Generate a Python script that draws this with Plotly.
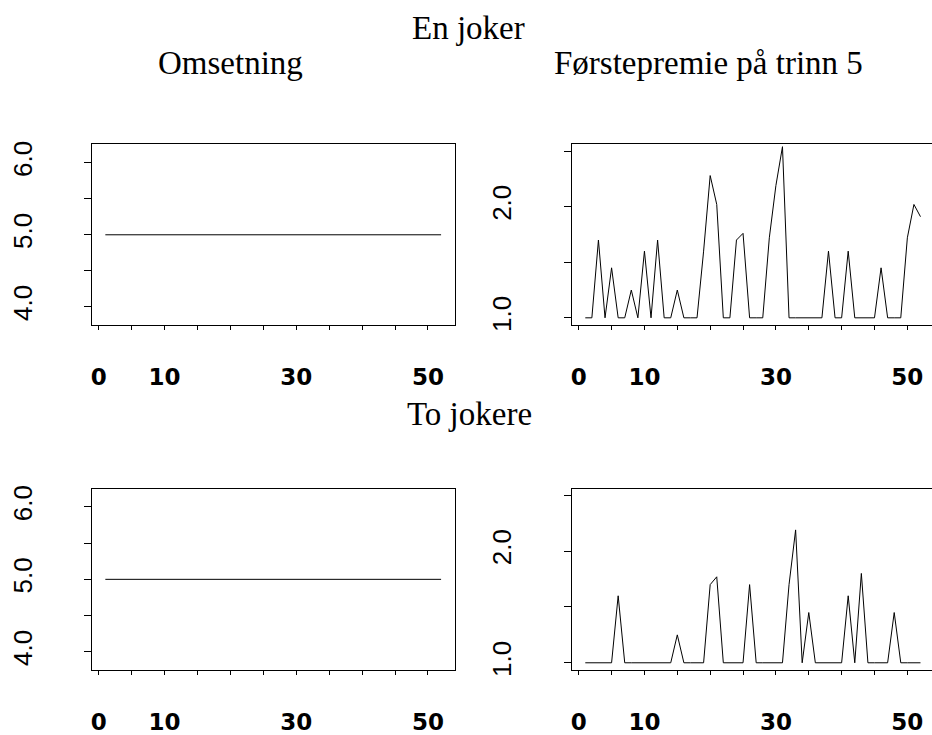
import plotly.graph_objects as go

W, H = 932, 735

# ---- data ----
weeks = list(range(1, 53))
omsetning_en = [5.0] * 52
omsetning_to = [5.0] * 52
premie_en = [1.0, 1.0, 1.70, 1.0, 1.45, 1.0, 1.0, 1.25, 1.0, 1.60,
             1.0, 1.70, 1.0, 1.0, 1.25, 1.0, 1.0, 1.0, 1.60, 2.28,
             2.02, 1.0, 1.0, 1.70, 1.76, 1.0, 1.0, 1.0, 1.72, 2.19,
             2.54, 1.0, 1.0, 1.0, 1.0, 1.0, 1.0, 1.60, 1.0, 1.0,
             1.60, 1.0, 1.0, 1.0, 1.0, 1.45, 1.0, 1.0, 1.0, 1.72,
             2.02, 1.91]
premie_to = [1.0, 1.0, 1.0, 1.0, 1.0, 1.60, 1.0, 1.0, 1.0, 1.0,
             1.0, 1.0, 1.0, 1.0, 1.25, 1.0, 1.0, 1.0, 1.0, 1.70,
             1.77, 1.0, 1.0, 1.0, 1.0, 1.70, 1.0, 1.0, 1.0, 1.0,
             1.0, 1.70, 2.19, 1.0, 1.45, 1.0, 1.0, 1.0, 1.0, 1.0,
             1.60, 1.0, 1.80, 1.0, 1.0, 1.0, 1.0, 1.45, 1.0, 1.0,
             1.0, 1.0]

x_tickvals = [0, 5, 10, 15, 20, 25, 30, 35, 40, 45, 50]
x_ticktext = ["0", "", "10", "", "", "", "30", "", "", "", "50"]
y_left_vals = [4.0, 4.5, 5.0, 5.5, 6.0]
y_left_text = ["4.0", "", "5.0", "", "6.0"]
y_right_vals = [1.0, 1.5, 2.0, 2.5]
y_right_text = ["1.0", "", "2.0", ""]

main_title_top = "En joker"
main_title_bottom = "To jokere"
sub_left = "Omsetning"
sub_right = "Førstepremie på trinn 5"

# ---- layout helpers ----
def px_x(p):
    return p / W

def px_y(p):
    return 1 - p / H

fig = go.Figure()
line = dict(color="black", width=1)
fig.add_trace(go.Scatter(x=weeks, y=omsetning_en, mode="lines", line=line, xaxis="x", yaxis="y", showlegend=False))
fig.add_trace(go.Scatter(x=weeks, y=premie_en, mode="lines", line=line, xaxis="x2", yaxis="y2", showlegend=False))
fig.add_trace(go.Scatter(x=weeks, y=omsetning_to, mode="lines", line=line, xaxis="x3", yaxis="y3", showlegend=False))
fig.add_trace(go.Scatter(x=weeks, y=premie_to, mode="lines", line=line, xaxis="x4", yaxis="y4", showlegend=False))

tickfont_x = dict(family="DejaVu Sans", size=23, color="black", weight="bold")
tickfont_y = dict(family="Liberation Sans", size=26, color="black")

left_dom = [px_x(91), px_x(454)]
right_dom = [px_x(571.5), 1.0]
top_dom = [px_y(328.3), px_y(144.2)]
bot_dom = [px_y(680), px_y(495)]

def xaxis(dom, anchor, rng):
    return dict(domain=dom, anchor=anchor, range=rng, tickvals=x_tickvals, ticktext=x_ticktext,
                ticks="outside", ticklen=4, tickwidth=1, tickcolor="black",
                showline=True, linecolor="black", linewidth=1, mirror=True,
                showgrid=False, zeroline=False, tickfont=tickfont_x,
                ticklabelstandoff=27, fixedrange=True)

def yaxis(dom, anchor, rng, vals, text, mirror):
    return dict(domain=dom, anchor=anchor, range=rng, tickvals=vals, ticktext=text,
                ticks="outside", ticklen=7, tickwidth=1, tickcolor="black",
                showline=True, linecolor="black", linewidth=1, mirror=mirror,
                showgrid=False, zeroline=False, tickfont=tickfont_y, tickangle=-90,
                ticklabelstandoff=42, fixedrange=True)

xl = [-1.04, 54.04]
xr = [-1.04, 53.75]
yl = [3.747, 6.254]
yr = [0.935, 2.56]

fig.update_layout(
    width=W, height=H,
    margin=dict(l=0, r=0, t=0, b=0),
    paper_bgcolor="white", plot_bgcolor="white",
    xaxis=xaxis(left_dom, "y", xl),
    yaxis=yaxis(top_dom, "x", yl, y_left_vals, y_left_text, True),
    xaxis2=xaxis(right_dom, "y2", xr),
    yaxis2=yaxis(top_dom, "x2", yr, y_right_vals, y_right_text, False),
    xaxis3=xaxis(left_dom, "y3", xl),
    yaxis3=yaxis(bot_dom, "x3", yl, y_left_vals, y_left_text, True),
    xaxis4=xaxis(right_dom, "y4", xr),
    yaxis4=yaxis(bot_dom, "x4", yr, y_right_vals, y_right_text, False),
)

title_font = dict(family="Liberation Serif", size=33, color="black")
def ann(text, cx, cy):
    return dict(text=text, x=px_x(cx), y=px_y(cy), xref="paper", yref="paper",
                xanchor="center", yanchor="middle", showarrow=False, font=title_font)

fig.update_layout(annotations=[
    ann(main_title_top, 468, 25.5),
    ann(sub_left, 230, 61.5),
    ann(sub_right, 708, 61.5),
    ann(main_title_bottom, 469, 418.5),
])

fig.write_html("out.html", config={"displayModeBar": False, "staticPlot": True},
               post_script="document.body.style.margin='0';document.body.style.overflow='hidden';")
